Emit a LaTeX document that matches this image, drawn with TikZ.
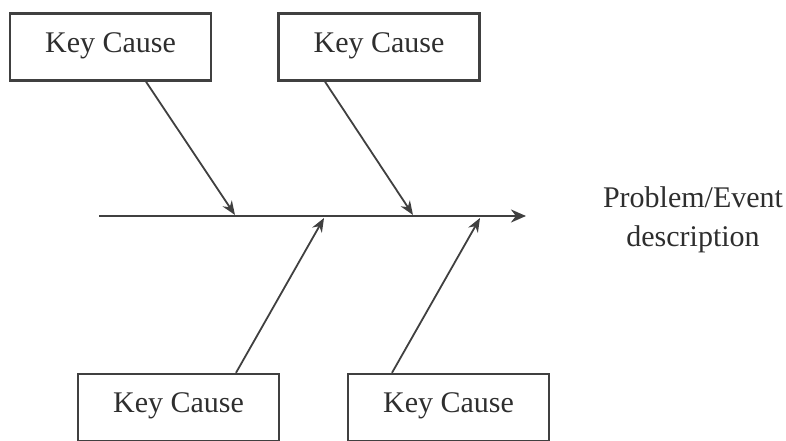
\documentclass[tikz,border=0pt]{standalone}
\usepackage{fontspec}
\setmainfont{Liberation Serif}
\usetikzlibrary{positioning, calc, arrows.meta}
\definecolor{fbLine}{HTML}{404040}
\definecolor{fbText}{HTML}{2E2E2E}

\tikzset{
	causebox/.style={draw=fbLine, line width=2.4pt, minimum width=201pt,
		minimum height=67pt, inner sep=0pt, text=fbText, font=\fontsize{30}{33}\selectfont},
	bone/.style={draw=fbLine, line width=1.8pt, -{Stealth[length=14pt, width=11pt]}},
}

\begin{document}
\begin{tikzpicture}[x=1pt, y=-1pt]
					\useasboundingbox (0,0) rectangle (786,441);
					% causes
					\node[causebox] (causeA) at (110.5,47) {\raisebox{9pt}{Key Cause}};
					\node[causebox] (causeB) at (379,47) {\raisebox{9pt}{Key Cause}};
					\node[causebox] (causeC) at (178.5,407.5) {\raisebox{9pt}{Key Cause}};
					\node[causebox] (causeD) at (448.5,407.5) {\raisebox{9pt}{Key Cause}};
					% spine
					\coordinate (tail) at (99,216);
					\coordinate (head) at (526,216);
					\coordinate (hitA) at (235,215);
					\coordinate (hitB) at (413,215);
					\coordinate (hitC) at (324,218);
					\coordinate (hitD) at (480,218);
					\draw[draw=fbLine, line width=2.8pt, -{Stealth[length=15pt, width=13pt]}] (tail) -- (head);
					\node[text=fbText, align=center, font=\fontsize{30}{39}\selectfont] (problem) at (693,220)
					{Problem/Event\\description};
					\draw[bone] (causeA.south) ++(35.5,0) -- (hitA);
					\draw[bone] (causeB.south) ++(-54,0) -- (hitB);
					\draw[bone] (causeC.north) ++(57.5,0) -- (hitC);
					\draw[bone] (causeD.north) ++(-56.5,0) -- (hitD);
				\end{tikzpicture}
\end{document}
